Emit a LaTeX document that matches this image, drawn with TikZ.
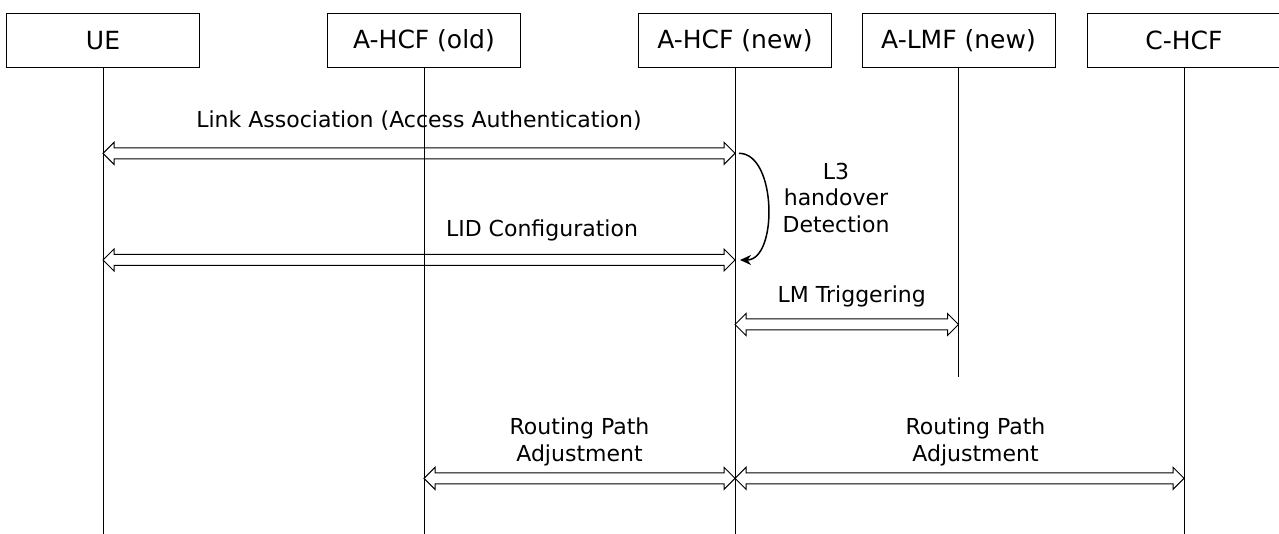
\documentclass[tikz,border=0pt]{standalone}
\usepackage{fontspec}
\setmainfont{DejaVu Sans}
\usetikzlibrary{calc,arrows.meta}
\begin{document}
\begin{tikzpicture}[x=1pt, y=-1pt, line width=1pt, >={Stealth[length=11pt, width=10pt, inset=3.5pt]},
	entity/.style={draw, minimum width=193pt, minimum height=53.5pt, inner sep=0pt, font=\fontsize{25}{30}\selectfont},
	msglabel/.style={inner sep=0pt, align=center, font=\fontsize{22}{26.5}\selectfont},
	hollow/.style={to path={
		(\tikztostart) -- ++(11,-11) -- ++(0,5.5)
		-- ($(\tikztotarget)+(-11,-5.5)$) \tikztonodes -- ++(0,-5.5)
		-- (\tikztotarget) -- ++(-11,11) -- ++(0,-5.5)
		-- ($(\tikztostart)+(11,5.5)$) -- ++(0,5.5) -- cycle}}]
	\useasboundingbox (0,0) rectangle (1279,534);
	
	% Entidades
	\node[entity] (ue) at (103,40.7) {UE};
	\node[entity] (old) at (424,40.7) {A-HCF (old)};
	\node[entity] (new) at (735,40.7) {A-HCF (new)};
	\node[entity] (lmf) at (958.5,40.7) {A-LMF (new)};
	\node[entity] (chcf) at (1184,40.7) {C-HCF};
	
	% Niveis
	\coordinate (bot) at (0,534);
	\coordinate (lmfend) at (0,377);
	\coordinate (m1) at (0,153.3);
	\coordinate (m2) at (0,260);
	\coordinate (m3) at (0,324.5);
	\coordinate (m4) at (0,478.3);
	
	% Linhas de vida
	\draw (ue.south) -- (ue |- bot);
	\draw (old.south) -- (old |- bot);
	\draw (new.south) -- (new |- bot);
	\draw (lmf.south) -- (lmf |- lmfend);
	\draw (chcf.south) -- (chcf |- bot);
	
	% Mensagens
	\draw[hollow] (ue |- m1) to node[msglabel, midway, above=17pt] (link) {Link Association (Access Authentication)} (new |- m1);
	\draw[hollow] (ue |- m2) to node[msglabel, midway, above=13pt, xshift=123pt] (lid) {LID Configuration} (new |- m2);
	\draw[hollow] (new |- m3) to node[msglabel, midway, above=11.4pt, xshift=5pt] (trig) {LM Triggering} (lmf |- m3);
	\draw[hollow] (old |- m4) to node[msglabel, midway, above=6.7pt] (route1) {Routing Path\\Adjustment} (new |- m4);
	\draw[hollow] (new |- m4) to node[msglabel, midway, above=6.7pt, xshift=16pt] (route2) {Routing Path\\Adjustment} (chcf |- m4);
	
	% Deteccao
	\coordinate (d1) at ($(new |- m1)+(4,0)$);
	\coordinate (d2) at ($(new |- m2)+(5,0)$);
	\draw[->, line width=1.5pt] (d1) .. controls +(38,0) and +(38,0) .. (d2);
	\node[msglabel, anchor=north] (det) at (836,162.3) {L3\\handover\\Detection};
\end{tikzpicture}
\end{document}
